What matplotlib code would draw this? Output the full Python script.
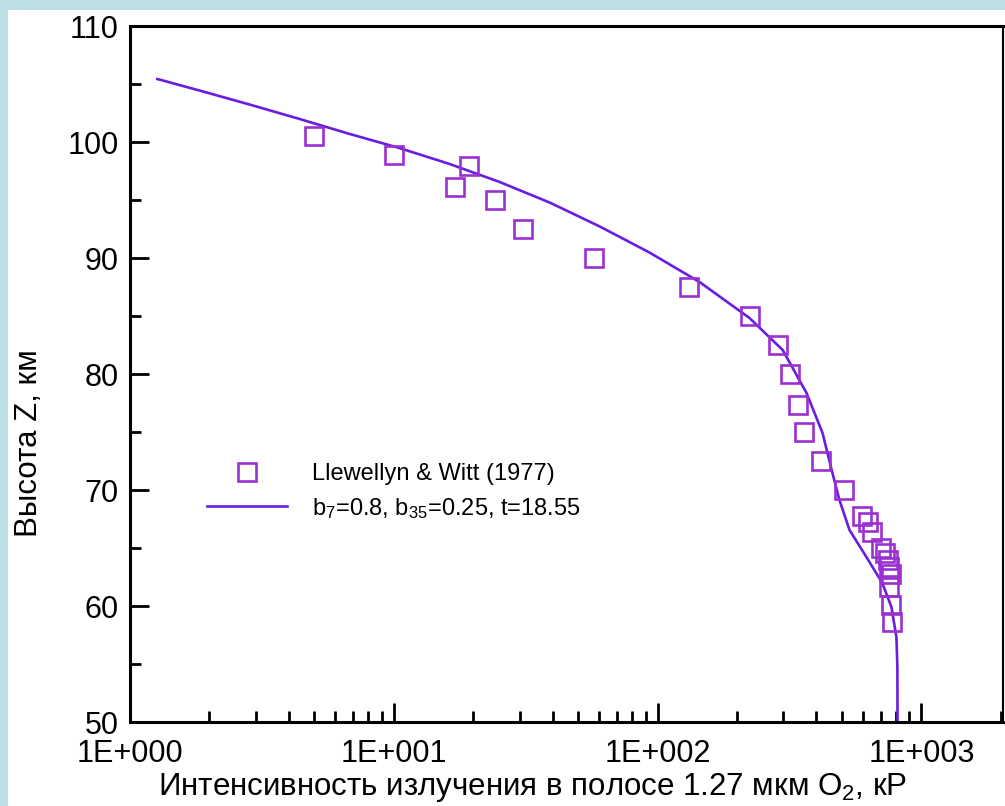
import numpy as np
import matplotlib
matplotlib.use("Agg")
import matplotlib.pyplot as plt
from matplotlib.patches import Rectangle
from matplotlib.ticker import FixedLocator, FixedFormatter, LogLocator, MultipleLocator

plt.rcParams['font.family'] = ['Liberation Sans', 'DejaVu Sans']
plt.rcParams['mathtext.default'] = 'regular'

# Llewellyn & Witt (1977) measurements: intensity (kR) vs altitude (km)
obs_i = [5.0, 10.0, 17.0, 19.2, 24.1, 30.8, 57.2, 132, 225, 285, 319, 342, 360,
         418, 511, 598, 630, 652, 705, 731, 750, 757, 764, 757, 764, 776]
obs_z = [100.5, 98.9, 96.1, 97.9, 95.0, 92.5, 90.0, 87.5, 85.0, 82.5, 80.0, 77.3,
         75.0, 72.5, 70.0, 67.8, 67.2, 66.4, 65.0, 64.6, 64.0, 63.4, 62.8, 61.6,
         60.1, 58.6]

# model profile b7=0.8, b35=0.25, t=18.55
mod_i = [1.27, 1.84, 2.85, 4.40, 6.81, 10.5, 16.3, 25.2, 39.0, 60.3, 93.2, 144,
         223, 298, 367, 422, 460, 489, 534, 619, 711, 770, 804, 811, 812]
mod_z = [105.43, 104.43, 103.22, 101.98, 100.69, 99.48, 98.10, 96.55, 94.78,
         92.72, 90.47, 87.94, 84.83, 82.07, 78.36, 74.91, 71.47, 69.14, 66.55,
         64.22, 61.98, 59.91, 57.33, 54.74, 50.0]

xticks = [1, 10, 100, 1000]
xticklabels = ['1E+000', '1E+001', '1E+002', '1E+003']
yticks = [50, 60, 70, 80, 90, 100, 110]

sq_color = '#9b30d0'
line_color = '#6a1de0'

fig = plt.figure(figsize=(10.05, 8.06), dpi=100)
fig.patch.set_facecolor('#bde0e4')
fig.patches.append(Rectangle((8/1005, 0), 1, 1 - 10/806, transform=fig.transFigure,
                             facecolor='white', edgecolor='none', zorder=-10))

ax = fig.add_axes([130/1005, 1 - 722/806, 872.5/1005, 696/806])
ax.set_facecolor('white')

ax.plot(obs_i, obs_z, linestyle='none', marker='s', markersize=13.5,
        markerfacecolor='none', markeredgecolor=sq_color, markeredgewidth=1.9,
        label='Llewellyn & Witt (1977)', zorder=3)
ax.plot(mod_i, mod_z, color=line_color, linewidth=1.9,
        label='b$_7$=0.8, b$_{35}$=0.25, t=18.55', zorder=2)

ax.set_xscale('log')
ax.set_xlim(1, 2030)
ax.set_ylim(50, 110)

ax.xaxis.set_major_locator(FixedLocator(xticks))
ax.xaxis.set_major_formatter(FixedFormatter(xticklabels))
ax.xaxis.set_minor_locator(LogLocator(base=10, subs=np.arange(2, 10)))
ax.yaxis.set_major_locator(FixedLocator(yticks))
ax.yaxis.set_minor_locator(MultipleLocator(5))

ax.tick_params(which='both', direction='in', top=False, right=False, width=2,
               labelsize=22, colors='black')
ax.tick_params(which='major', length=14)
ax.tick_params(which='minor', length=8)
ax.tick_params(axis='x', pad=12)
ax.tick_params(axis='y', pad=8)

for sp in ax.spines.values():
    sp.set_linewidth(2.2)
ax.spines['right'].set_linewidth(1.5)

ax.set_xlabel('Интенсивность излучения в полосе 1.27 мкм O$_2$, кР', fontsize=22.5)
ax.set_ylabel('Высота Z, км', fontsize=22.5)
ax.xaxis.set_label_coords(0.461, -0.07)
ax.yaxis.set_label_coords(-0.099, 0.40)

leg = ax.legend(loc='upper left', bbox_to_anchor=(0.088, 0.372), frameon=False,
                fontsize=17, handlelength=3.4, handletextpad=1.05, labelspacing=0.45,
                borderpad=0, borderaxespad=0)

fig.savefig('out.png', dpi=100, facecolor=fig.get_facecolor())
